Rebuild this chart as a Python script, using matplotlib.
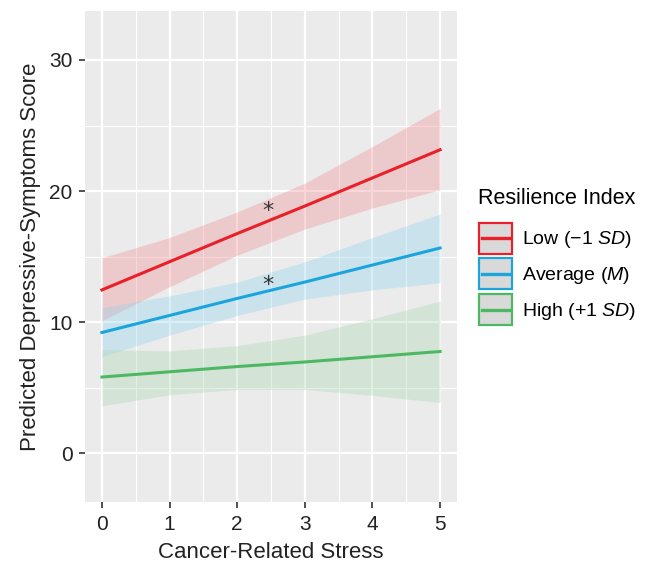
import numpy as np
import matplotlib
matplotlib.use("Agg")
import matplotlib.pyplot as plt
import matplotlib.transforms as mtransforms
from matplotlib.patches import Rectangle
from matplotlib.lines import Line2D

plt.rcParams['font.family'] = ['Liberation Sans', 'DejaVu Sans']
plt.rcParams['mathtext.fontset'] = 'custom'
plt.rcParams['mathtext.rm'] = 'Liberation Sans'
plt.rcParams['mathtext.it'] = 'Liberation Sans:italic'

# data
stress = [0, 1, 2, 3, 4, 5]
groups = ["Low (\u22121 $\\it{SD}$)", "Average ($\\it{M}$)", "High (+1 $\\it{SD}$)"]
fit = {
    "low": [12.45, 14.6, 16.75, 18.85, 21.0, 23.15],
    "avg": [9.2, 10.5, 11.8, 13.05, 14.35, 15.65],
    "high": [5.8, 6.2, 6.6, 6.95, 7.35, 7.75],
}
upper = {
    "low": [14.9, 16.45, 18.4, 20.6, 23.4, 26.3],
    "avg": [11.1, 12.0, 13.05, 14.6, 16.45, 18.25],
    "high": [7.9, 7.8, 8.2, 9.0, 10.25, 11.6],
}
lower = {
    "low": [10.1, 12.7, 15.1, 17.1, 18.7, 20.1],
    "avg": [7.35, 9.0, 10.5, 11.75, 12.45, 13.0],
    "high": [3.6, 4.45, 4.85, 4.85, 4.4, 3.85],
}
stars_x = [2.45, 2.45]
stars_y = [18.75, 13.15]

line_col = {"low": "#E8202A", "avg": "#1BA5DC", "high": "#4DB863"}
fill_col = {"low": "#F08A8E", "avg": "#8FD3EC", "high": "#A8D8B2"}


class KeyHandler:
    # grey box with coloured border and a short line inside, like ggplot keys
    def legend_artist(self, legend, orig_handle, fontsize, handlebox):
        x0, y0 = -handlebox.xdescent, -handlebox.ydescent
        w, h = handlebox.width, handlebox.height
        col = orig_handle.get_color()
        box = Rectangle((x0 + 1, y0 + 1), w - 2, h - 2, facecolor='#D9D9D9',
                        edgecolor=col, lw=1.6, transform=handlebox.get_transform())
        ln = Line2D([x0 + 0.12 * w, x0 + 0.88 * w], [y0 + h / 2, y0 + h / 2],
                    color=col, lw=2.4, transform=handlebox.get_transform())
        handlebox.add_artist(box)
        handlebox.add_artist(ln)
        return box


fig = plt.figure(figsize=(6.51, 5.67), dpi=100)
ax = fig.add_axes([0.1306, 0.1146, 0.5714, 0.866])
ax.set_facecolor('#EBEBEB')

ax.set_xlim(-0.25, 5.25)
ax.set_ylim(-3.74, 33.74)
ax.set_xticks(stress)
ax.set_yticks([0, 10, 20, 30])
ax.set_xticks(np.arange(0.5, 5, 1), minor=True)
ax.set_yticks([5, 15, 25], minor=True)
ax.grid(which='major', color='white', lw=1.6)
ax.grid(which='minor', color='white', lw=0.8)
ax.set_axisbelow(True)
ax.tick_params(which='minor', length=0)
ax.tick_params(which='major', length=4, width=1.2, color='#333333',
               labelsize=15, labelcolor='#222222', pad=5)
for s in ax.spines.values():
    s.set_visible(False)

handles = []
for key in ["low", "avg", "high"]:
    ax.fill_between(stress, lower[key], upper[key], color=fill_col[key],
                    alpha=0.35, lw=0)
for key in ["low", "avg", "high"]:
    l, = ax.plot(stress, fit[key], color=line_col[key], lw=2.2)
    handles.append(l)

star_shift = mtransforms.offset_copy(ax.transData, fig=fig, x=0, y=-4, units='dots')
for x, y in zip(stars_x, stars_y):
    ax.text(x, y, "*", ha='center', va='center', fontsize=16, color='#333333',
            family='DejaVu Sans', transform=star_shift)

ax.set_xlabel("Cancer-Related Stress", fontsize=16, color='#222222', labelpad=6)
ax.set_ylabel("Predicted Depressive-Symptoms Score", fontsize=16,
              color='#222222', labelpad=6)

leg = fig.legend(handles, groups, loc='upper left',
                 bbox_to_anchor=(0.734, 0.669), frameon=False, fontsize=14,
                 title="Resilience Index", title_fontsize=15.5,
                 handlelength=1.85, handleheight=2.3, labelspacing=0.1,
                 handletextpad=0.4, borderaxespad=0, borderpad=0,
                 handler_map={Line2D: KeyHandler()})
leg._legend_box.align = 'left'
leg._legend_box.sep = 9

fig.savefig("out.png", dpi=100)
